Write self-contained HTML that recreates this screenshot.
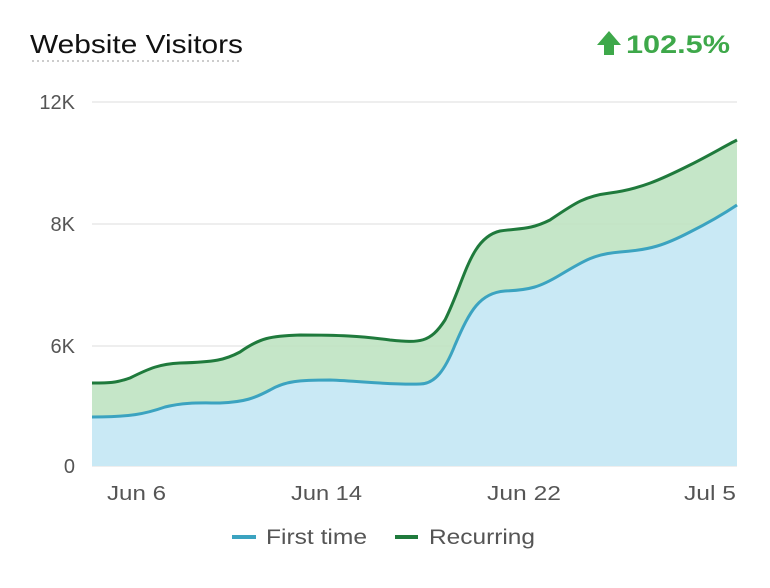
<!DOCTYPE html>
<html><head><meta charset="utf-8"><style>
body{margin:0;background:#fff;width:770px;height:583px;overflow:hidden;font-family:"Liberation Sans",sans-serif}
</style></head><body>
<svg width="770" height="583" viewBox="0 0 770 583" xmlns="http://www.w3.org/2000/svg">
<text x="30" y="53" font-size="26" fill="#111" textLength="213" lengthAdjust="spacingAndGlyphs">Website Visitors</text>
<line x1="32" y1="61" x2="242" y2="61" stroke="#ccc" stroke-width="2" stroke-dasharray="2,3"/>
<path d="M609 31 L621 45 L614 45 L614 55 L604 55 L604 45 L597 45 Z" fill="#3ea84a"/>
<text x="626" y="53" font-size="25" font-weight="bold" fill="#3ea84a" textLength="104" lengthAdjust="spacingAndGlyphs">102.5%</text>
<g stroke="#e8e8e8" stroke-width="1.5">
<line x1="92" y1="102" x2="737" y2="102"/><line x1="92" y1="224" x2="737" y2="224"/><line x1="92" y1="346" x2="737" y2="346"/><line x1="92" y1="466" x2="737" y2="466"/>
</g>
<g font-size="20" fill="#555" text-anchor="end">
<text x="75" y="109">12K</text><text x="75" y="231">8K</text><text x="75" y="353">6K</text><text x="75" y="473">0</text>
</g>
<path d="M92 383 C110 383,115 383,130 378 C150 368,160 364,180 363 C215 362,225 360,240 352 C260 338,270 336,300 335 C340 335,360 336,390 340 C420 343,430 343,445 320 C465 280,470 238,500 231 C520 228,530 230,550 220 C575 203,585 196,610 193 C640 189,660 180,690 165 C710 155,725 146,737 140 L737 205 C725 213,710 222,690 232 C665 245,650 250,620 252 C595 254,585 260,560 275 C540 287,530 290,505 291 C480 293,470 310,455 345 C445 370,435 384,420 384 C390 385,360 381,330 380 C300 380,285 381,270 390 C255 398,245 402,220 403 C200 403,185 402,165 407 C145 414,130 417,92 417 Z" fill="#bfe3c2" opacity="0.9"/>
<path d="M92 417 C130 417,145 414,165 407 C185 402,200 403,220 403 C245 402,255 398,270 390 C285 381,300 380,330 380 C360 381,390 385,420 384 C435 384,445 370,455 345 C470 310,480 293,505 291 C530 290,540 287,560 275 C585 260,595 254,620 252 C650 250,665 245,690 232 C710 222,725 213,737 205 L737 466 L92 466 Z" fill="#c9e9f5"/>
<path d="M92 417 C130 417,145 414,165 407 C185 402,200 403,220 403 C245 402,255 398,270 390 C285 381,300 380,330 380 C360 381,390 385,420 384 C435 384,445 370,455 345 C470 310,480 293,505 291 C530 290,540 287,560 275 C585 260,595 254,620 252 C650 250,665 245,690 232 C710 222,725 213,737 205" fill="none" stroke="#3ba3c0" stroke-width="3"/>
<path d="M92 383 C110 383,115 383,130 378 C150 368,160 364,180 363 C215 362,225 360,240 352 C260 338,270 336,300 335 C340 335,360 336,390 340 C420 343,430 343,445 320 C465 280,470 238,500 231 C520 228,530 230,550 220 C575 203,585 196,610 193 C640 189,660 180,690 165 C710 155,725 146,737 140" fill="none" stroke="#1f7a3c" stroke-width="3"/>
<g font-size="20" fill="#555">
<text x="107" y="500" textLength="59" lengthAdjust="spacingAndGlyphs">Jun 6</text>
<text x="291" y="500" textLength="71" lengthAdjust="spacingAndGlyphs">Jun 14</text>
<text x="487" y="500" textLength="74" lengthAdjust="spacingAndGlyphs">Jun 22</text>
<text x="684" y="500" textLength="52" lengthAdjust="spacingAndGlyphs">Jul 5</text>
</g>
<line x1="232" y1="537" x2="256" y2="537" stroke="#3ba3c0" stroke-width="4"/>
<text x="266" y="544" font-size="21" fill="#555" textLength="101" lengthAdjust="spacingAndGlyphs">First time</text>
<line x1="395" y1="537" x2="418" y2="537" stroke="#1f7a3c" stroke-width="4"/>
<text x="429" y="544" font-size="21" fill="#555" textLength="106" lengthAdjust="spacingAndGlyphs">Recurring</text>
</svg>
</body></html>
